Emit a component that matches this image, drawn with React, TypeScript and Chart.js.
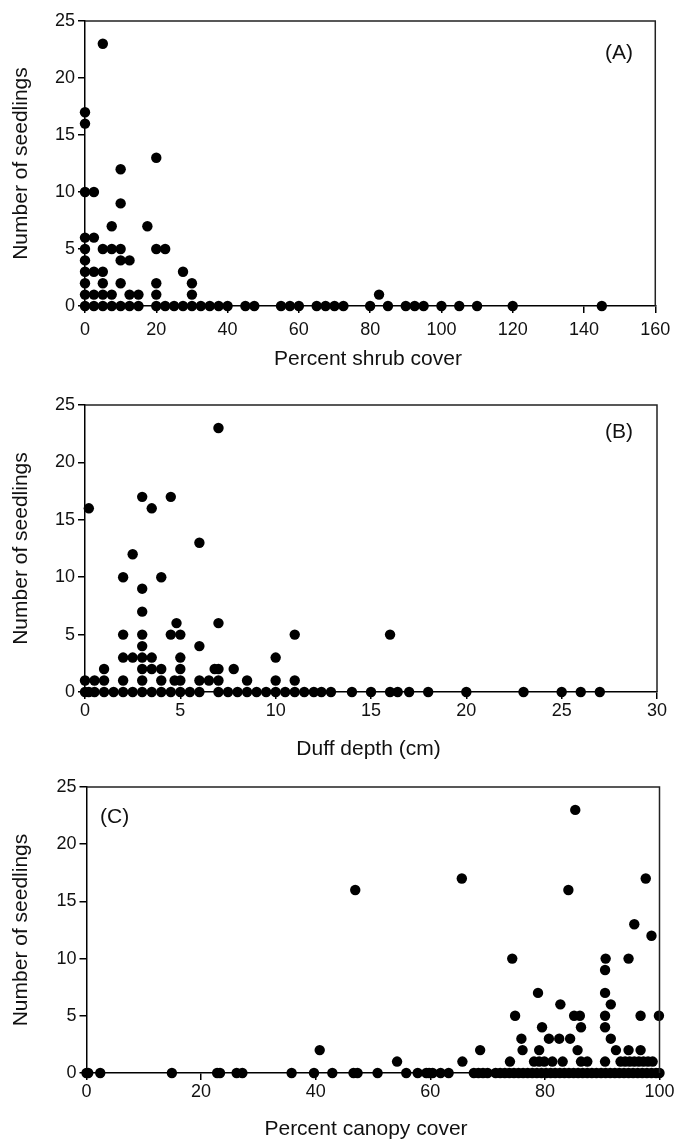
import React, { useEffect, useRef } from "react";
import { Chart, registerables } from "chart.js";

Chart.register(...registerables);

const FONT = "'Liberation Sans', Arial, Helvetica, sans-serif";

// ---------- Data: [x, number of seedlings] ----------
const shrubPoints: [number, number][] = [
  [5, 23], [0, 17], [0, 16], [20, 13], [10, 12], [0, 10], [2.5, 10], [10, 9],
  [7.5, 7], [17.5, 7], [0, 6], [2.5, 6],
  [0, 5], [5, 5], [7.5, 5], [10, 5], [20, 5], [22.5, 5],
  [0, 4], [10, 4], [12.5, 4],
  [0, 3], [2.5, 3], [5, 3], [27.5, 3],
  [0, 2], [5, 2], [10, 2], [20, 2], [30, 2],
  [0, 1], [2.5, 1], [5, 1], [7.5, 1], [12.5, 1], [15, 1], [20, 1], [30, 1], [82.5, 1],
  [0, 0], [2.5, 0], [5, 0], [7.5, 0], [10, 0], [12.5, 0], [15, 0], [20, 0], [22.5, 0],
  [25, 0], [27.5, 0], [30, 0], [32.5, 0], [35, 0], [37.5, 0], [40, 0], [45, 0], [47.5, 0],
  [55, 0], [57.5, 0], [60, 0], [65, 0], [67.5, 0], [70, 0], [72.5, 0], [80, 0], [85, 0],
  [90, 0], [92.5, 0], [95, 0], [100, 0], [105, 0], [110, 0], [120, 0], [145, 0],
];

const duffPoints: [number, number][] = [
  [7, 23], [3, 17], [4.5, 17], [0.2, 16], [3.5, 16], [6, 13], [2.5, 12], [2, 10], [4, 10],
  [3, 9], [3, 7], [4.8, 6], [7, 6],
  [2, 5], [3, 5], [4.5, 5], [5, 5], [11, 5], [16, 5],
  [3, 4], [6, 4],
  [2, 3], [2.5, 3], [3, 3], [3.5, 3], [5, 3], [10, 3],
  [1, 2], [3, 2], [3.5, 2], [4, 2], [5, 2], [6.8, 2], [7, 2], [7.8, 2],
  [0, 1], [0.5, 1], [1, 1], [2, 1], [3, 1], [4, 1], [4.7, 1], [5, 1], [6, 1], [6.5, 1],
  [7, 1], [8.5, 1], [10, 1], [11, 1],
  [0, 0], [0.2, 0], [0.5, 0], [1, 0], [1.5, 0], [2, 0], [2.5, 0], [3, 0], [3.5, 0], [4, 0],
  [4.5, 0], [5, 0], [5.5, 0], [6, 0], [7, 0], [7.5, 0], [8, 0], [8.5, 0], [9, 0], [9.5, 0],
  [10, 0], [10.5, 0], [11, 0], [11.5, 0], [12, 0], [12.4, 0], [12.9, 0], [14, 0], [15, 0],
  [16, 0], [16.4, 0], [17, 0], [18, 0], [20, 0], [23, 0], [25, 0], [26, 0], [27, 0],
];

const canopyPoints: [number, number][] = [
  [85.3, 23], [65.5, 17], [97.6, 17], [46.9, 16], [84.1, 16], [95.6, 13], [98.6, 12],
  [74.3, 10], [90.6, 10], [94.6, 10], [90.5, 9], [78.8, 7], [90.5, 7], [82.7, 6], [91.5, 6],
  [74.8, 5], [85.1, 5], [86.1, 5], [90.5, 5], [96.7, 5], [99.9, 5],
  [79.5, 4], [86.3, 4], [90.5, 4],
  [75.9, 3], [80.7, 3], [82.5, 3], [84.4, 3], [91.5, 3],
  [40.7, 2], [68.7, 2], [76.1, 2], [79, 2], [85.7, 2], [92.4, 2], [94.6, 2], [96.7, 2],
  [54.2, 1], [65.6, 1], [73.9, 1], [78.1, 1], [79, 1], [79.9, 1], [81.3, 1], [83.1, 1],
  [86.3, 1], [87.4, 1], [90.5, 1], [93.2, 1], [94, 1], [94.8, 1], [95.6, 1], [96.4, 1],
  [97.2, 1], [98, 1], [98.8, 1],
  [0, 0], [0.3, 0], [2.4, 0], [14.9, 0], [22.8, 0], [23.3, 0], [26.2, 0], [27.2, 0],
  [35.8, 0], [39.7, 0], [42.9, 0], [46.6, 0], [47.3, 0], [50.8, 0], [55.8, 0], [57.8, 0],
  [59.3, 0], [59.8, 0], [60.4, 0], [61.8, 0], [63.2, 0],
  [67.6, 0], [68.4, 0], [69.2, 0], [70, 0], [71.4, 0], [72.2, 0], [73, 0], [73.8, 0],
  [74.6, 0], [75.4, 0], [76.2, 0], [77, 0], [77.8, 0], [78.6, 0], [79.4, 0], [80.2, 0],
  [81, 0], [81.8, 0], [82.6, 0], [83.4, 0], [84.2, 0], [85, 0], [85.8, 0], [86.6, 0],
  [87.4, 0], [88.2, 0], [89, 0], [89.8, 0], [90.6, 0], [91.4, 0], [92.2, 0], [93, 0],
  [93.8, 0], [94.6, 0], [95.4, 0], [96.2, 0], [97, 0], [97.8, 0], [98.6, 0], [99.4, 0], [100, 0],
];

const yAxisTitle = "Number of seedlings";
const seedlingMax = 25;
const seedlingStep = 5;

type Area = { left: number; top: number; right: number; bottom: number };

type PanelProps = {
  points: [number, number][];
  xMax: number;
  xStep: number;
  xTitle: string;
  tag: string;
  tagSide: "left" | "right";
  canvasTop: number;
  canvasHeight: number;
  area: Area;
  titleCenter: number;
  titleX: number;
  tickCenter: number;
  tagY: number;
};

const W = 677;

function Panel(p: PanelProps) {
  const ref = useRef<HTMLCanvasElement | null>(null);

  useEffect(() => {
    if (!ref.current) return;
    const tickLen = 7;
    const tickFont = { family: FONT, size: 18, lineHeight: 1.2 };
    const titleFont = { family: FONT, size: 21, lineHeight: 1.0 };
    const xAxisHeight = p.canvasTop + p.canvasHeight - p.area.bottom;
    const xTickPad = p.tickCenter - p.area.bottom - tickLen - 10.8;

    const boxPlugin = {
      id: "box",
      afterDraw(chart: any) {
        const { ctx, chartArea } = chart;
        ctx.save();
        ctx.strokeStyle = "#222";
        ctx.lineWidth = 1.5;
        ctx.beginPath();
        ctx.moveTo(chartArea.left, chartArea.top);
        ctx.lineTo(chartArea.right, chartArea.top);
        ctx.lineTo(chartArea.right, chartArea.bottom);
        ctx.stroke();
        ctx.fillStyle = "#111";
        ctx.font = `21px ${FONT}`;
        ctx.textBaseline = "middle";
        // x-axis title
        ctx.textAlign = "center";
        ctx.fillText(p.xTitle, p.titleX, p.titleCenter - p.canvasTop);
        // panel tag
        if (p.tagSide === "right") {
          ctx.textAlign = "right";
          ctx.fillText(p.tag, 633, p.tagY - p.canvasTop);
        } else {
          ctx.textAlign = "left";
          ctx.fillText(p.tag, 100, p.tagY - p.canvasTop);
        }
        ctx.restore();
      },
    };

    const chart = new Chart(ref.current, {
      type: "scatter",
      data: {
        datasets: [
          {
            data: p.points.map(([x, y]) => ({ x, y })),
            backgroundColor: "#000",
            borderWidth: 0,
            pointRadius: 5.2,
            pointHoverRadius: 5.2,
            clip: false as any,
          },
        ],
      },
      options: {
        animation: false,
        responsive: false,
        devicePixelRatio: 1,
        events: [],
        layout: {
          padding: {
            left: 0,
            top: p.area.top - p.canvasTop,
            right: W - p.area.right,
            bottom: 0,
          },
        },
        plugins: { legend: { display: false }, tooltip: { enabled: false } },
        scales: {
          x: {
            type: "linear",
            min: 0,
            max: p.xMax,
            afterFit: (s: any) => {
              s.height = xAxisHeight;
            },
            ticks: {
              stepSize: p.xStep,
              color: "#111",
              font: tickFont,
              padding: xTickPad,
              maxRotation: 0,
            },
            grid: {
              display: true,
              drawOnChartArea: false,
              drawTicks: true,
              tickLength: tickLen,
              color: "#000",
              lineWidth: 1.5,
            },
            border: { display: true, color: "#000", width: 1.5 },
            title: { display: false },
          },
          y: {
            type: "linear",
            min: 0,
            max: seedlingMax,
            afterFit: (s: any) => {
              s.width = p.area.left;
            },
            ticks: {
              stepSize: seedlingStep,
              color: "#111",
              font: tickFont,
              padding: 3,
            },
            grid: {
              display: true,
              drawOnChartArea: false,
              drawTicks: true,
              tickLength: tickLen,
              color: "#000",
              lineWidth: 1.5,
            },
            border: { display: true, color: "#000", width: 1.5 },
            title: {
              display: true,
              text: yAxisTitle,
              color: "#111",
              font: titleFont,
              padding: { top: 10.5, bottom: 0 },
            },
          },
        },
      } as any,
      plugins: [boxPlugin],
    });
    return () => chart.destroy();
  }, []);

  return (
    <canvas
      ref={ref}
      width={W}
      height={p.canvasHeight}
      style={{
        position: "absolute",
        left: 0,
        top: p.canvasTop,
        width: W,
        height: p.canvasHeight,
        display: "block",
      }}
    />
  );
}

export default function App() {
  return (
    <div
      style={{
        position: "absolute",
        left: 0,
        top: 0,
        width: W,
        height: 1140,
        background: "#fff",
        overflow: "hidden",
      }}
    >
      <Panel
        points={shrubPoints}
        xMax={160}
        xStep={20}
        xTitle="Percent shrub cover"
        tag="(A)"
        tagSide="right"
        canvasTop={0}
        canvasHeight={385}
        area={{ left: 85, top: 21, right: 657, bottom: 306 }}
        titleCenter={359.5}
        titleX={368}
        tickCenter={330.5}
        tagY={53}
      />
      <Panel
        points={duffPoints}
        xMax={30}
        xStep={5}
        xTitle="Duff depth (cm)"
        tag="(B)"
        tagSide="right"
        canvasTop={385}
        canvasHeight={385}
        area={{ left: 85, top: 405, right: 657, bottom: 692 }}
        titleCenter={749}
        titleX={368.5}
        tickCenter={711}
        tagY={432}
      />
      <Panel
        points={canopyPoints}
        xMax={100}
        xStep={20}
        xTitle="Percent canopy cover"
        tag="(C)"
        tagSide="left"
        canvasTop={770}
        canvasHeight={370}
        area={{ left: 86.5, top: 787, right: 659.5, bottom: 1073 }}
        titleCenter={1129.5}
        titleX={366}
        tickCenter={1092.5}
        tagY={817}
      />
    </div>
  );
}
